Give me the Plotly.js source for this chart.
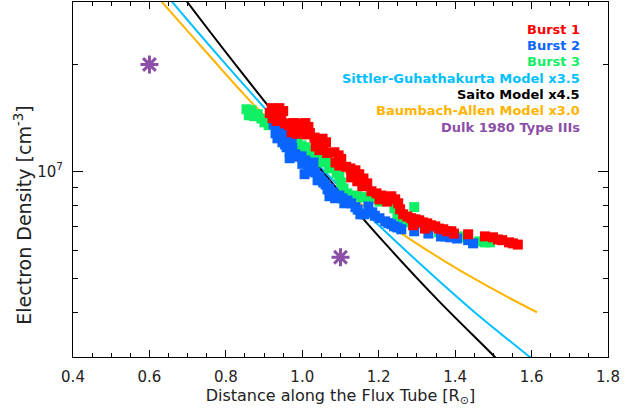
<!DOCTYPE html>
<html>
<head>
<meta charset="utf-8">
<script src="https://cdn.plot.ly/plotly-3.0.1.min.js"></script>
<style>html,body{margin:0;padding:0;background:#fff;}#chart{width:644px;height:412px;}</style>
</head>
<body>
<div id="chart"></div>
<script>
// ---- Data ----
const burst1_x = [0.920,0.930,0.940,0.950,0.922,0.933,0.945,0.955,0.915,0.938, 0.965,0.977,0.987,0.998,1.008,1.016,0.972,0.985,0.998,1.011,1.020, 1.032,1.042,1.053,1.062,1.035,1.045,1.056,1.065, 1.084,1.095,1.102,1.087,1.097, 1.115,1.126,1.139,1.149,1.160,1.170,1.128,1.144,1.157, 1.181,1.194,1.207,1.220,1.233,1.243,1.202,1.222, 1.251,1.256,1.264, 1.275,1.285,1.296,1.306,1.316,1.327,1.337,1.348,1.358,1.369,1.379,1.290,1.321, 1.390,1.397,1.434,1.478,1.499,1.512,1.523,1.541,1.551,1.564];
const burst1_n = [15.07e6,14.79e6,15.07e6,14.79e6,14.13e6,13.87e6,14.13e6,13.65e6,14.6e6,14.5e6, 13.49e6,13.68e6,13.65e6,13.55e6,13.68e6,13.34e6,12.88e6,12.76e6,12.94e6,12.71e6,12.82e6, 12.45e6,12.30e6,12.36e6,12.08e6,11.75e6,11.48e6,11.64e6,11.27e6, 11.32e6,11.09e6,10.84e6,10.59e6,10.38e6, 10.3e6,10.19e6,10.07e6,9.82e6,9.55e6,9.25e6,9.62e6,9.38e6,9.08e6, 8.79e6,8.67e6,8.55e6,8.45e6,8.51e6,8.34e6,8.34e6,8.22e6, 8.13e6,7.82e6,7.57e6, 7.46e6,7.38e6,7.33e6,7.28e6,7.18e6,7.14e6,7.05e6,7.00e6,6.90e6,6.87e6,6.78e6,7.05e6,6.90e6, 6.78e6,6.68e6,6.65e6,6.56e6,6.52e6,6.43e6,6.40e6,6.31e6,6.27e6,6.22e6];

const burst2_x = [0.925,0.925,0.940,0.951,0.935,0.948,0.961,0.972,0.959,0.974, 0.967,0.982,0.998,1.008,1.014,1.024,1.034,1.045,1.029,1.050, 1.061,1.071,1.081,1.092,1.097,1.118,1.128,1.152,1.173,1.183, 1.202,1.217,1.233,1.249,1.259,1.293,1.330,1.363,1.374,1.387, 1.405,1.434,1.447, 1.006,1.040,1.071,1.110,0.967,1.139,1.162, 0.930,0.944,0.955,0.990,1.000,1.019,1.055,1.066,1.086,1.105,1.145,1.190,1.225,1.240];
const burst2_n = [14.29e6,13.55e6,13.21e6,12.88e6,12.39e6,12.08e6,12.39e6,12.08e6,11.69e6,11.61e6, 11.32e6,11.17e6,11.02e6,10.74e6,10.47e6,10.19e6,9.93e6,9.68e6,10.59e6,9.44e6, 9.18e6,8.95e6,8.73e6,8.51e6,8.55e6,8.28e6,8.13e6,7.57e6,7.96e6,7.67e6, 7.38e6,7.23e6,7.10e6,6.95e6,6.87e6,6.78e6,6.68e6,6.56e6,6.56e6,6.52e6, 6.47e6,6.40e6,6.27e6, 9.82e6,9.44e6,8.51e6,8.13e6,10.89e6,7.93e6,7.57e6, 12.8e6,12.6e6,11.9e6,11.0e6,10.5e6,10.0e6,9.3e6,8.9e6,8.4e6,8.4e6,7.8e6,7.5e6,7.15e6,7.0e6];

const burst3_x = [0.854,0.867,0.883,0.893,0.901,0.912,0.860,0.874, 0.987,0.998,1.008,1.019,1.029,1.040,1.050,1.061,1.071,1.081, 1.092,1.097,1.102,1.108,1.118,1.131,1.144,1.157,1.170,1.183, 1.202,1.241,1.249,1.259,1.269,1.282,1.293,1.306,1.322,1.335, 1.358,1.371,1.416,1.429,1.463,1.478,1.491, 1.010,1.030,1.050,1.070,1.090];
const burst3_n = [14.96e6,14.86e6,14.49e6,14.09e6,13.74e6,13.49e6,14.39e6,14.3e6, 12.08e6,11.83e6,11.69e6,11.46e6,11.32e6,11.09e6,10.94e6,10.74e6,10.54e6,10.33e6, 10.07e6,9.68e6,9.31e6,8.95e6,8.67e6,8.55e6,8.51e6,8.45e6,8.45e6,8.40e6, 8.22e6,7.87e6,7.57e6,7.33e6,7.23e6,7.18e6,7.93e6,7.14e6,7.05e6,7.00e6, 6.73e6,6.68e6,6.56e6,6.52e6,6.35e6,6.31e6,6.31e6, 11.3e6,11.0e6,10.6e6,10.2e6,9.9e6];

const sittler_x = [0.622,0.661,0.792,0.922,1.053,1.183,1.314,1.444,1.601,1.640];
const sittler_n = [3.365e7,2.99e7,2.048e7,1.427e7,1.014e7,7.34e6,5.42e6,4.07e6,2.966e6,2.75e6];

const saito_x = [0.648,0.700,0.831,0.961,1.092,1.222,1.353,1.504,1.536];
const saito_n = [3.56e7,2.99e7,1.962e7,1.311e7,8.915e6,6.175e6,4.36e6,3.00e6,2.76e6];

const baumbach_x = [0.601,0.634,0.745,0.862,0.993,1.123,1.254,1.384,1.515,1.614];
const baumbach_n = [3.28e7,2.99e7,2.19e7,1.585e7,1.146e7,8.61e6,6.755e6,5.49e6,4.56e6,4.01e6];

const dulk_x = [0.6, 1.1];
const dulk_n = [2.0e7, 5.73e6];

const legend_labels = ["Burst 1","Burst 2","Burst 3","Sittler-Guhathakurta Model x3.5","Saito Model x4.5","Baumbach-Allen Model x3.0","Dulk 1980 Type IIIs"];
const legend_colors = ["#ff0000","#0a64ff","#10f064","#00c0ff","#000000","#ffb400","#8c4fa8"];

const x_ticks = [0.4,0.6,0.8,1.0,1.2,1.4,1.6,1.8];
const y_major = [1e7];
const y_major_text = ["10<sup>7</sup>"];
const y_minor = [4e6,5e6,6e6,7e6,8e6,9e6,2e7];
const x_title = 'Distance along the Flux Tube [R<sub>⊙</sub>]';
const y_title = 'Electron Density [cm<sup>-3</sup>]';

// ---- Traces ----
const FONT = "DejaVu Sans, Liberation Sans, sans-serif";
function lineTrace(x, y, color){
  return {x:x, y:y, type:'scatter', mode:'lines', line:{color:color, width:2, shape:'spline', smoothing:1}, hoverinfo:'skip', showlegend:false};
}
function ptsTrace(x, y, color){
  return {x:x, y:y, type:'scatter', mode:'markers', marker:{symbol:'square', size:10, color:color, line:{width:0}}, showlegend:false};
}
const traces = [
  lineTrace(baumbach_x, baumbach_n, legend_colors[5]),
  lineTrace(sittler_x, sittler_n, legend_colors[3]),
  lineTrace(saito_x, saito_n, legend_colors[4]),
  ptsTrace(burst3_x, burst3_n, legend_colors[2]),
  ptsTrace(burst2_x, burst2_n, legend_colors[1]),
  ptsTrace(burst1_x, burst1_n, legend_colors[0]),
  {x:dulk_x, y:dulk_n, type:'scatter', mode:'markers', marker:{symbol:'asterisk-open', size:15, color:legend_colors[6], line:{color:legend_colors[6], width:3}}, showlegend:false}
];

const annotations = legend_labels.map((t,i)=>({
  text:t, xref:'paper', yref:'paper', x:0.951, y:0.923 - i*0.0459,
  xanchor:'right', yanchor:'middle', showarrow:false,
  font:{family:FONT, size:13, color:legend_colors[i], weight:'bold'}
}));
annotations.push({
  text:y_title, xref:'paper', yref:'paper', x:-0.094, y:0.40,
  xanchor:'center', yanchor:'middle', textangle:-90, showarrow:false,
  font:{family:FONT, size:19, color:'#222'}
});

const layout = {
  width:644, height:412,
  margin:{l:73, r:36, t:2, b:55},
  paper_bgcolor:'#fff', plot_bgcolor:'#fff',
  showlegend:false,
  font:{family:FONT, size:15, color:'#222'},
  xaxis:{
    range:[0.4,1.8], tickmode:'array', tickvals:x_ticks, tickformat:'.1f',
    ticks:'inside', ticklen:7, tickwidth:1, tickcolor:'#000',
    minor:{dtick:0.05, tick0:0.4, ticks:'inside', ticklen:4, tickcolor:'#000', tickwidth:1},
    showline:true, linecolor:'#000', linewidth:1, mirror:'ticks',
    showgrid:false, zeroline:false, ticklabelstandoff:6,
    tickfont:{family:FONT, size:15, color:'#222'},
    title:{text:x_title, font:{family:FONT, size:16, color:'#222'}, standoff:3}
  },
  yaxis:{
    type:'log', range:[Math.log10(3e6), Math.log10(3e7)],
    tickmode:'array', tickvals:y_major, ticktext:y_major_text,
    ticks:'inside', ticklen:10, tickwidth:1, tickcolor:'#000',
    minor:{tickmode:'array', tickvals:y_minor, ticks:'inside', ticklen:5, tickcolor:'#000', tickwidth:1},
    showline:true, linecolor:'#000', linewidth:1, mirror:'ticks',
    showgrid:false, zeroline:false, ticklabelstandoff:6,
    tickfont:{family:FONT, size:15, color:'#222'}
  },
  annotations:annotations
};

Plotly.newPlot('chart', traces, layout, {staticPlot:true, displayModeBar:false});
</script>
</body>
</html>
